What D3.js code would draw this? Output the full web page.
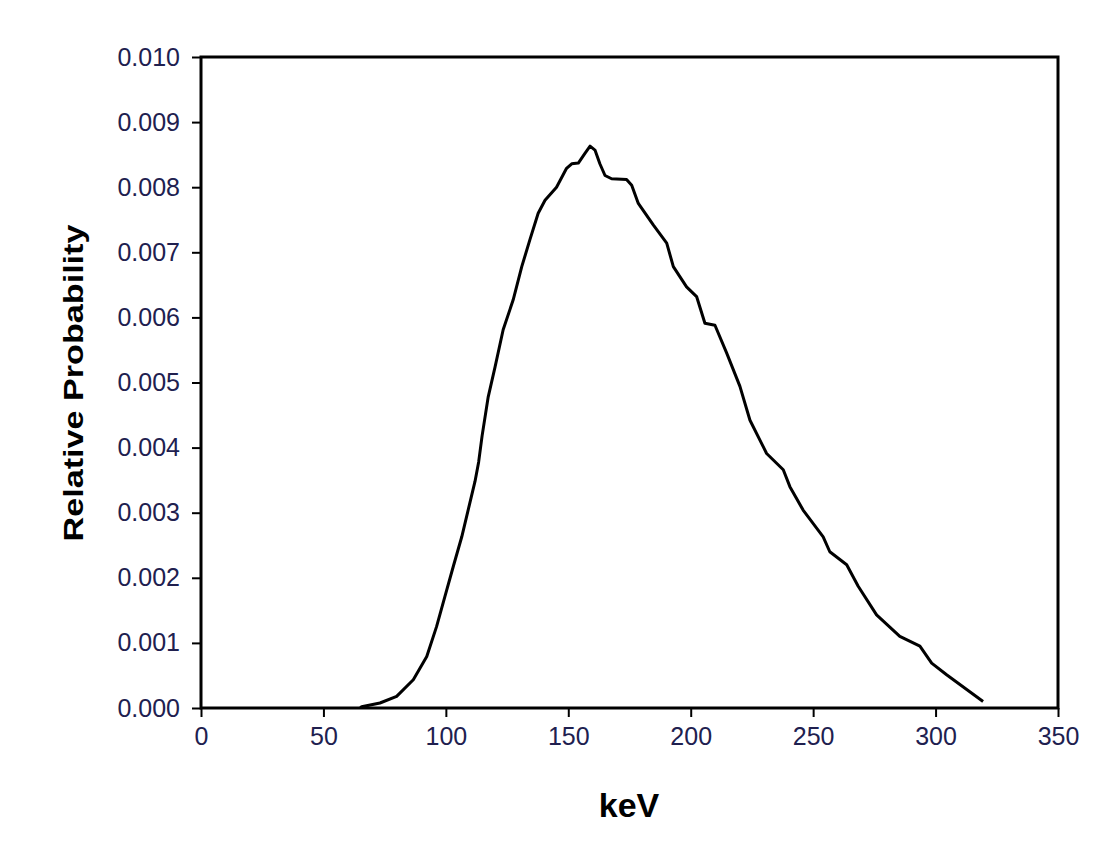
<!DOCTYPE html>
<html>
<head>
<meta charset="utf-8">
<script src="https://cdn.jsdelivr.net/npm/d3@7"></script>
<style>
  body { margin: 0; background: #fff; }
  text { font-family: Arial, "Liberation Sans", sans-serif; }
</style>
</head>
<body>
<div id="chart"></div>
<script>
// energy (keV)
const keV = [65, 65.6, 73.1, 79.9, 86.7, 92.2, 96.2, 99.6, 103.0, 106.5, 109.1, 111.9,
  113.4, 114.8, 117.3, 120.1, 123.4, 127.5, 131.0, 134.3, 137.7, 140.5, 145.2, 149.3, 151.4,
  154.1, 156.8, 158.9, 160.9, 162.9, 165.0, 167.7, 173.8, 175.9, 178.6, 184.7, 190.2,
  192.9, 198.3, 202.4, 205.8, 209.9, 214.7, 220.1, 224.2, 231.0, 237.8, 240.5, 245.9,
  254.1, 256.8, 263.7, 268.4, 275.9, 285.4, 293.6, 298.4, 304.5, 319.4];

// relative probability
const prob = [0, 0.00002, 0.000077, 0.000178, 0.000434, 0.00079, 0.00125, 0.00171, 0.00217,
  0.00263, 0.00304, 0.00348, 0.00378, 0.00418, 0.00478, 0.00524, 0.00581, 0.00627, 0.00678,
  0.00719, 0.00760, 0.00780, 0.00800, 0.00829, 0.00836, 0.00837, 0.00852, 0.00863,
  0.00857, 0.00836, 0.00818, 0.00813, 0.00812, 0.00803, 0.00775, 0.00742, 0.00714,
  0.00678, 0.00647, 0.00632, 0.00591, 0.00588, 0.00545, 0.00494, 0.00442, 0.00391,
  0.00366, 0.00340, 0.00304, 0.00263, 0.00240, 0.00220, 0.00187, 0.00143, 0.00110,
  0.00095, 0.00069, 0.00051, 0.00010];

const xTicks = [0, 50, 100, 150, 200, 250, 300, 350];
const yTicks = [0, 0.001, 0.002, 0.003, 0.004, 0.005, 0.006, 0.007, 0.008, 0.009, 0.010];

const data = keV.map((k, i) => ({k: k, p: prob[i]}));

// set the dimensions and margins of the graph
const margin = {top: 57, right: 48, bottom: 157, left: 201},
    width = 1106 - margin.left - margin.right,
    height = 865 - margin.top - margin.bottom;

const svg = d3.select("#chart")
    .append("svg")
    .attr("width", 1106)
    .attr("height", 865)
    .append("g")
    .attr("transform", `translate(${margin.left},${margin.top})`);

const x = d3.scaleLinear().domain([0, 350]).range([0, width]);
const y = d3.scaleLinear().domain([0, 0.010]).range([height, 0]);

const labelColor = "#20204f";

// x axis
const xAxis = svg.append("g")
    .attr("transform", `translate(0,${height})`)
    .call(d3.axisBottom(x).tickValues(xTicks).tickSize(9).tickPadding(10).tickFormat(d3.format("d")));

// y axis
const yAxis = svg.append("g")
    .call(d3.axisLeft(y).tickValues(yTicks).tickSize(9).tickPadding(12).tickFormat(d3.format(".3f")));

[xAxis, yAxis].forEach(a => {
  a.select(".domain").remove();
  a.selectAll(".tick line").attr("stroke", "#000").attr("stroke-width", 2);
  a.selectAll(".tick text")
    .attr("fill", labelColor)
    .style("font-size", "25px")
    .style("font-family", "Arial, 'Liberation Sans', sans-serif");
});

// plot frame
svg.append("rect")
    .attr("x", 0).attr("y", 0)
    .attr("width", width).attr("height", height)
    .attr("fill", "none")
    .attr("stroke", "#000")
    .attr("stroke-width", 3);

// the spectrum
svg.append("path")
    .datum(data)
    .attr("fill", "none")
    .attr("stroke", "#000")
    .attr("stroke-width", 3)
    .attr("stroke-linejoin", "round")
    .attr("d", d3.line().x(d => x(d.k)).y(d => y(d.p)));

// axis titles
svg.append("text")
    .attr("transform", `translate(${73 - margin.left},${383 - margin.top}) rotate(-90)`)
    .attr("text-anchor", "middle")
    .attr("dy", "0.35em")
    .attr("textLength", 317)
    .attr("lengthAdjust", "spacingAndGlyphs")
    .style("font-size", "28px")
    .style("font-weight", "bold")
    .attr("fill", "#000")
    .text("Relative Probability");

svg.append("text")
    .attr("x", 629 - margin.left)
    .attr("y", 817 - margin.top)
    .attr("text-anchor", "middle")
    .style("font-size", "34px")
    .style("font-weight", "bold")
    .attr("fill", "#000")
    .text("keV");
</script>
</body>
</html>
